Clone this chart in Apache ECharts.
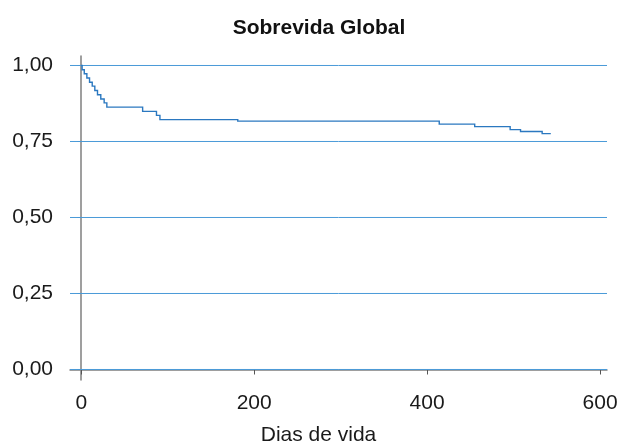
<!DOCTYPE html>
<html><head><meta charset="utf-8">
<script src="https://cdn.jsdelivr.net/npm/echarts@6/dist/echarts.min.js"></script>
<style>html,body{margin:0;padding:0;background:#fff}#c{width:619px;height:444px}</style>
</head><body><div id="c"></div>
<script>
const titleText = 'Sobrevida Global';
const xName = 'Dias de vida';
const days = [0, 1, 3.5, 6.5, 9.6, 12.7, 15.7, 18.8, 22.6, 26.5, 29.6, 71, 87, 91, 181, 414, 455, 496, 508, 533, 543];
const survival = [1, 0.986, 0.973, 0.959, 0.945, 0.932, 0.918, 0.904, 0.890, 0.877, 0.863, 0.849, 0.836, 0.822, 0.817, 0.807, 0.799, 0.789, 0.783, 0.776, 0.776];
const xTicks = [0, 200, 400, 600];
const yTicks = [0, 0.25, 0.5, 0.75, 1];

const font = 'Liberation Sans, Arial, sans-serif';
const chart = echarts.init(document.getElementById('c'));
chart.setOption({
  animation: false,
  title: { text: titleText, left: 314, top: 13, textAlign: 'center',
    textStyle: { fontFamily: font, fontSize: 21, fontWeight: 'bold', color: '#111' } },
  grid: { left: 70, right: 12, top: 56, bottom: 64, containLabel: false, outerBoundsMode: 'none' },
  xAxis: {
    type: 'value', min: -13, max: 608,
    name: xName, nameLocation: 'middle', nameGap: 45,
    nameTextStyle: { fontFamily: font, fontSize: 21, color: '#1a1a1a', padding: [0, 40, 0, 0] },
    axisLine: { show: true, lineStyle: { color: '#7f7f7f', width: 1.5 } },
    axisTick: { show: true, length: 5, customValues: xTicks, lineStyle: { color: '#555' } },
    axisLabel: { customValues: xTicks, fontFamily: font, fontSize: 21, color: '#1a1a1a', margin: 13 },
    splitLine: { show: false }
  },
  yAxis: {
    type: 'value', min: -0.03454, max: 1.03125,
    axisLine: { show: true, lineStyle: { color: '#7f7f7f', width: 1.5 } },
    axisTick: { show: true, length: 4, customValues: yTicks, lineStyle: { color: '#333' } },
    axisLabel: { customValues: yTicks, fontFamily: font, fontSize: 21, color: '#1a1a1a', margin: 17,
      formatter: v => v.toFixed(2).replace('.', ',') },
    splitLine: { show: false }
  },
  series: [{
    type: 'custom', silent: true, z: 2,
    data: yTicks.map(v => [0, v]),
    renderItem: function (params, api) {
      const cs = params.coordSys;
      const p = api.coord([0, api.value(1)]);
      return { type: 'line', shape: { x1: cs.x, y1: p[1], x2: cs.x + cs.width, y2: p[1] },
        style: { stroke: '#4a9ad8', lineWidth: 1 } };
    }
  }, {
    type: 'custom', silent: true, z: 5,
    data: [[days[0], survival[0]]],
    renderItem: function (params, api) {
      const pts = [];
      for (let i = 0; i < days.length; i++) {
        if (i > 0) pts.push(api.coord([days[i], survival[i - 1]]));
        pts.push(api.coord([days[i], survival[i]]));
      }
      return { type: 'polyline', shape: { points: pts },
        style: { stroke: '#2b78c0', lineWidth: 1.4, fill: null } };
    }
  }]
});
</script></body></html>
